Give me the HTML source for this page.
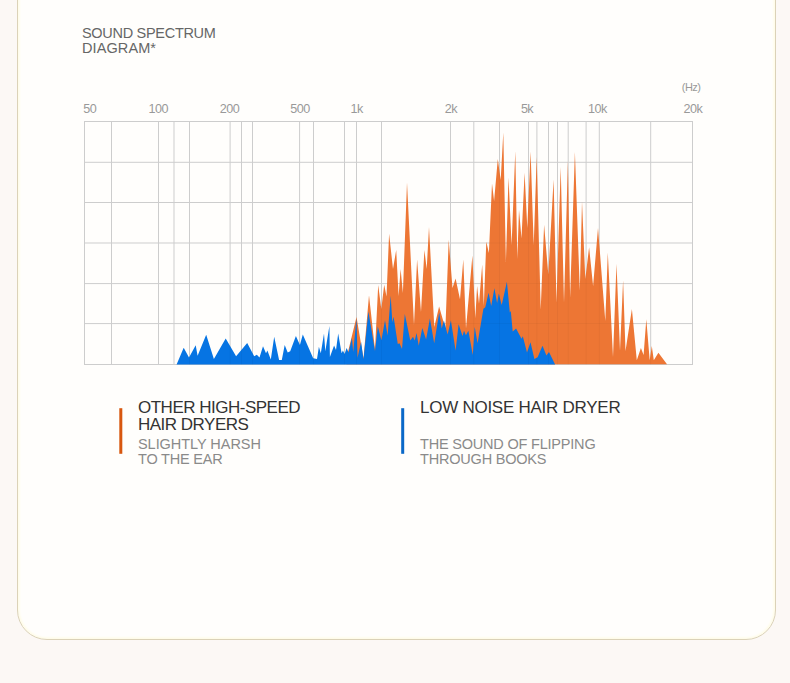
<!DOCTYPE html>
<html><head><meta charset="utf-8">
<style>
*{margin:0;padding:0;box-sizing:border-box}
html,body{width:790px;height:683px;overflow:hidden;background:#fcf8f5;font-family:"Liberation Sans",sans-serif}
#card{position:absolute;left:17px;top:-40px;width:759px;height:680px;background:#fffefc;border:1px solid #dbd2b8;border-radius:30px;box-shadow:inset 0 0 2px 1.5px #fffce6}
.t{position:absolute;white-space:nowrap;color:#666}
#title{left:82px;top:26px;font-size:14.5px;line-height:14.5px;color:#666}
.ax{font-size:12.6px;color:#999;top:102px;letter-spacing:-0.55px;transform:translateX(-50%)}
svg{position:absolute;left:0;top:0}
.lg1{font-size:17px;line-height:16.5px;color:#333;letter-spacing:-0.5px}
.lg2{font-size:14.5px;line-height:15px;color:#8a8a8a;letter-spacing:-0.2px}
.bar{position:absolute;width:3px}
</style></head><body>
<div id="card"></div>
<div class="t" id="title"><span style="letter-spacing:-0.3px">SOUND SPECTRUM</span><br><span style="letter-spacing:0.1px">DIAGRAM*</span></div>
<div class="t ax" style="left:89.7px">50</div>
<div class="t ax" style="left:158.2px">100</div>
<div class="t ax" style="left:229.5px">200</div>
<div class="t ax" style="left:300px">500</div>
<div class="t ax" style="left:356.7px">1k</div>
<div class="t ax" style="left:450.8px">2k</div>
<div class="t ax" style="left:527px">5k</div>
<div class="t ax" style="left:597.4px">10k</div>
<div class="t ax" style="left:692.8px">20k</div>
<div class="t ax" style="left:691.1px;top:80.5px;font-size:11px">(Hz)</div>
<svg width="790" height="683" viewBox="0 0 790 683">
<defs><clipPath id="cp"><polygon points="346.5,364.5 346.5,358 356.5,317 363.5,358.6 369.0,295.3 375.0,349.5 378.2,285 381.3,309 384.2,284.8 386.5,296.5 389.1,233.8 393.0,269.0 396.2,250 398.6,296 400.6,269 402.9,293 407.0,182.4 414,325 417.1,259.5 421,312 424.4,250 426.7,269 429.0,227.1 434.3,327 439.1,306.6 445.4,328.6 448.7,239.8 452.5,288 455.6,278.4 460,299.3 463.3,259.4 466,328.6 472.4,255.6 475.3,318.3 477.1,286 479.0,303.7 482.2,264.5 483.8,306 486.3,241.7 488.9,253.1 492.0,183.4 494.1,201 497.8,159 500.7,180 503.3,132.5 505.9,262 508.5,177.5 511.6,245 515.3,151 517.3,259 519.0,209.8 521.5,238.5 524.6,172.8 527.3,228 530.6,151.4 533.7,245 536.7,157 540.7,309.8 544.1,224.7 548.3,274.6 553.6,179.6 556.5,302.7 560.7,167 564.0,302.7 567.9,161 570.1,297.5 574.9,152 579.8,290.4 582.0,201.5 585.3,279 589.1,247.3 593.1,286 598.0,227.9 605.3,321 607.8,252.5 613.0,357 616.5,263.8 620,351 623.1,280.3 625.5,351 631.9,309 636.8,360.3 640.9,348 643.6,355.1 646.3,319.2 649.7,360.3 651.8,345.9 653.8,360.3 658.4,352.7 667.2,364.5 667.2,364.5" fill="#000"/><polygon points="176.6,364.5 176.6,364.5 183.7,347.8 189.0,357.6 195.7,345.3 197.6,355.7 206.2,334.8 213.9,358.9 225.7,338.4 236.1,356.3 247.2,343.0 254.2,356.3 256.8,354.7 259.5,357.6 263.0,346.2 266.0,353.2 267.4,350.4 270.8,359.5 274.2,336.7 279.1,360.1 281.8,360.1 284.7,344.9 287.7,352.5 290.2,351.3 295.9,336.1 299.9,344.9 302.8,334.4 313.2,358.2 317.0,358.9 318.9,346.8 320.8,353.2 324.0,333.5 325.3,351.3 329.4,325.9 329.9,357.0 334.1,345.6 336.0,350 338.2,333.5 341.6,353.2 342.9,350.6 344.6,353.9 346.6,347.9 348.6,352.6 351.9,338 353.2,351.9 356.5,318.3 357.5,357.8 361.1,342 363.5,359.2 368.4,311.5 375.0,351 377.8,326.4 381.4,340.3 385.0,320.3 387.6,335.5 390.7,295.8 392.3,322.2 393.6,316.8 397.8,344 399.5,343.2 402.0,348.9 404.8,314.1 410.3,340.6 413.0,336.8 414.7,340.6 416.6,333.0 418.7,345.7 422.3,328.0 426.1,339.4 429.9,318.5 434.2,343.2 439.2,312.4 441.7,328.6 443.9,320.5 447.6,334.4 450.9,320.5 455.6,350.5 458.6,324.2 462.5,335.9 464.0,330.8 465.9,335.2 468.4,330.8 472.8,354.9 474.7,327.1 477.6,343.2 483.4,308.8 485.3,307.3 488.6,292.7 491.2,305.9 494.4,288.3 497.1,302.9 498.8,293.4 501.7,305.1 506.9,281.7 509.8,312.5 510.8,311 512.7,331.5 516.1,328.6 521.5,338.8 522.8,336.3 527.0,352.5 530.5,342.3 534.4,359.0 537.6,357.2 542.5,345.8 546.4,355.4 549.0,351.9 555.1,364.5 555.1,364.5" fill="#000"/></clipPath></defs>
<g id="grid" stroke="#cdcdcd" stroke-width="1">
<line x1="84.5" y1="121" x2="84.5" y2="365"/>
<line x1="111.5" y1="121" x2="111.5" y2="365"/>
<line x1="158.5" y1="121" x2="158.5" y2="365"/>
<line x1="174.0" y1="121" x2="174.0" y2="365"/>
<line x1="189.5" y1="121" x2="189.5" y2="365"/>
<line x1="230.1" y1="121" x2="230.1" y2="365"/>
<line x1="241.5" y1="121" x2="241.5" y2="365"/>
<line x1="252.5" y1="121" x2="252.5" y2="365"/>
<line x1="299.6" y1="121" x2="299.6" y2="365"/>
<line x1="313.5" y1="121" x2="313.5" y2="365"/>
<line x1="344.5" y1="121" x2="344.5" y2="365"/>
<line x1="356.5" y1="121" x2="356.5" y2="365"/>
<line x1="381.5" y1="121" x2="381.5" y2="365"/>
<line x1="450.5" y1="121" x2="450.5" y2="365"/>
<line x1="473.8" y1="121" x2="473.8" y2="365"/>
<line x1="499.5" y1="121" x2="499.5" y2="365"/>
<line x1="528.5" y1="121" x2="528.5" y2="365"/>
<line x1="536.9" y1="121" x2="536.9" y2="365"/>
<line x1="548.5" y1="121" x2="548.5" y2="365"/>
<line x1="557.5" y1="121" x2="557.5" y2="365"/>
<line x1="568.2" y1="121" x2="568.2" y2="365"/>
<line x1="586.1" y1="121" x2="586.1" y2="365"/>
<line x1="599.3" y1="121" x2="599.3" y2="365"/>
<line x1="650.7" y1="121" x2="650.7" y2="365"/>
<line x1="692.5" y1="121" x2="692.5" y2="365"/>
<line x1="84" y1="121.5" x2="693" y2="121.5"/>
<line x1="84" y1="162.3" x2="693" y2="162.3"/>
<line x1="84" y1="202.5" x2="693" y2="202.5"/>
<line x1="84" y1="243.0" x2="693" y2="243.0"/>
<line x1="84" y1="283.6" x2="693" y2="283.6"/>
<line x1="84" y1="323.6" x2="693" y2="323.6"/>
<line x1="84" y1="364.5" x2="693" y2="364.5"/>
</g>
<polygon points="346.5,364.2 346.5,358 356.5,317 363.5,358.6 369.0,295.3 375.0,349.5 378.2,285 381.3,309 384.2,284.8 386.5,296.5 389.1,233.8 393.0,269.0 396.2,250 398.6,296 400.6,269 402.9,293 407.0,182.4 414,325 417.1,259.5 421,312 424.4,250 426.7,269 429.0,227.1 434.3,327 439.1,306.6 445.4,328.6 448.7,239.8 452.5,288 455.6,278.4 460,299.3 463.3,259.4 466,328.6 472.4,255.6 475.3,318.3 477.1,286 479.0,303.7 482.2,264.5 483.8,306 486.3,241.7 488.9,253.1 492.0,183.4 494.1,201 497.8,159 500.7,180 503.3,132.5 505.9,262 508.5,177.5 511.6,245 515.3,151 517.3,259 519.0,209.8 521.5,238.5 524.6,172.8 527.3,228 530.6,151.4 533.7,245 536.7,157 540.7,309.8 544.1,224.7 548.3,274.6 553.6,179.6 556.5,302.7 560.7,167 564.0,302.7 567.9,161 570.1,297.5 574.9,152 579.8,290.4 582.0,201.5 585.3,279 589.1,247.3 593.1,286 598.0,227.9 605.3,321 607.8,252.5 613.0,357 616.5,263.8 620,351 623.1,280.3 625.5,351 631.9,309 636.8,360.3 640.9,348 643.6,355.1 646.3,319.2 649.7,360.3 651.8,345.9 653.8,360.3 658.4,352.7 667.2,364.5 667.2,364.2" fill="#ed7634"/>
<polygon points="176.6,364.5 176.6,364.5 183.7,347.8 189.0,357.6 195.7,345.3 197.6,355.7 206.2,334.8 213.9,358.9 225.7,338.4 236.1,356.3 247.2,343.0 254.2,356.3 256.8,354.7 259.5,357.6 263.0,346.2 266.0,353.2 267.4,350.4 270.8,359.5 274.2,336.7 279.1,360.1 281.8,360.1 284.7,344.9 287.7,352.5 290.2,351.3 295.9,336.1 299.9,344.9 302.8,334.4 313.2,358.2 317.0,358.9 318.9,346.8 320.8,353.2 324.0,333.5 325.3,351.3 329.4,325.9 329.9,357.0 334.1,345.6 336.0,350 338.2,333.5 341.6,353.2 342.9,350.6 344.6,353.9 346.6,347.9 348.6,352.6 351.9,338 353.2,351.9 356.5,318.3 357.5,357.8 361.1,342 363.5,359.2 368.4,311.5 375.0,351 377.8,326.4 381.4,340.3 385.0,320.3 387.6,335.5 390.7,295.8 392.3,322.2 393.6,316.8 397.8,344 399.5,343.2 402.0,348.9 404.8,314.1 410.3,340.6 413.0,336.8 414.7,340.6 416.6,333.0 418.7,345.7 422.3,328.0 426.1,339.4 429.9,318.5 434.2,343.2 439.2,312.4 441.7,328.6 443.9,320.5 447.6,334.4 450.9,320.5 455.6,350.5 458.6,324.2 462.5,335.9 464.0,330.8 465.9,335.2 468.4,330.8 472.8,354.9 474.7,327.1 477.6,343.2 483.4,308.8 485.3,307.3 488.6,292.7 491.2,305.9 494.4,288.3 497.1,302.9 498.8,293.4 501.7,305.1 506.9,281.7 509.8,312.5 510.8,311 512.7,331.5 516.1,328.6 521.5,338.8 522.8,336.3 527.0,352.5 530.5,342.3 534.4,359.0 537.6,357.2 542.5,345.8 546.4,355.4 549.0,351.9 555.1,364.5 555.1,364.5" fill="#0674e3"/>
<g stroke="#000" stroke-opacity="0.035" stroke-width="1" clip-path="url(#cp)">
<line x1="84.5" y1="121" x2="84.5" y2="365"/>
<line x1="111.5" y1="121" x2="111.5" y2="365"/>
<line x1="158.5" y1="121" x2="158.5" y2="365"/>
<line x1="174.0" y1="121" x2="174.0" y2="365"/>
<line x1="189.5" y1="121" x2="189.5" y2="365"/>
<line x1="230.1" y1="121" x2="230.1" y2="365"/>
<line x1="241.5" y1="121" x2="241.5" y2="365"/>
<line x1="252.5" y1="121" x2="252.5" y2="365"/>
<line x1="299.6" y1="121" x2="299.6" y2="365"/>
<line x1="313.5" y1="121" x2="313.5" y2="365"/>
<line x1="344.5" y1="121" x2="344.5" y2="365"/>
<line x1="356.5" y1="121" x2="356.5" y2="365"/>
<line x1="381.5" y1="121" x2="381.5" y2="365"/>
<line x1="450.5" y1="121" x2="450.5" y2="365"/>
<line x1="473.8" y1="121" x2="473.8" y2="365"/>
<line x1="499.5" y1="121" x2="499.5" y2="365"/>
<line x1="528.5" y1="121" x2="528.5" y2="365"/>
<line x1="536.9" y1="121" x2="536.9" y2="365"/>
<line x1="548.5" y1="121" x2="548.5" y2="365"/>
<line x1="557.5" y1="121" x2="557.5" y2="365"/>
<line x1="568.2" y1="121" x2="568.2" y2="365"/>
<line x1="586.1" y1="121" x2="586.1" y2="365"/>
<line x1="599.3" y1="121" x2="599.3" y2="365"/>
<line x1="650.7" y1="121" x2="650.7" y2="365"/>
<line x1="692.5" y1="121" x2="692.5" y2="365"/>
<line x1="84" y1="121.5" x2="693" y2="121.5"/>
<line x1="84" y1="162.3" x2="693" y2="162.3"/>
<line x1="84" y1="202.5" x2="693" y2="202.5"/>
<line x1="84" y1="243.0" x2="693" y2="243.0"/>
<line x1="84" y1="283.6" x2="693" y2="283.6"/>
<line x1="84" y1="323.6" x2="693" y2="323.6"/>
<line x1="84" y1="364.5" x2="693" y2="364.5"/>
</g>
<rect x="119.3" y="408.2" width="3" height="45.6" fill="#d8570f"/>
<rect x="401.2" y="408.2" width="3" height="45.6" fill="#0a68c8"/>
</svg>
<div class="t lg1" style="left:138px;top:400px">OTHER HIGH-SPEED<br>HAIR DRYERS</div>
<div class="t lg2" style="left:138px;top:437px"><span style="letter-spacing:-0.05px">SLIGHTLY HARSH</span><br>TO THE EAR</div>
<div class="t lg1" style="left:420px;top:400px;letter-spacing:-0.26px">LOW NOISE HAIR DRYER</div>
<div class="t lg2" style="left:420px;top:437px">THE SOUND OF FLIPPING<br>THROUGH BOOKS</div>
</body></html>
